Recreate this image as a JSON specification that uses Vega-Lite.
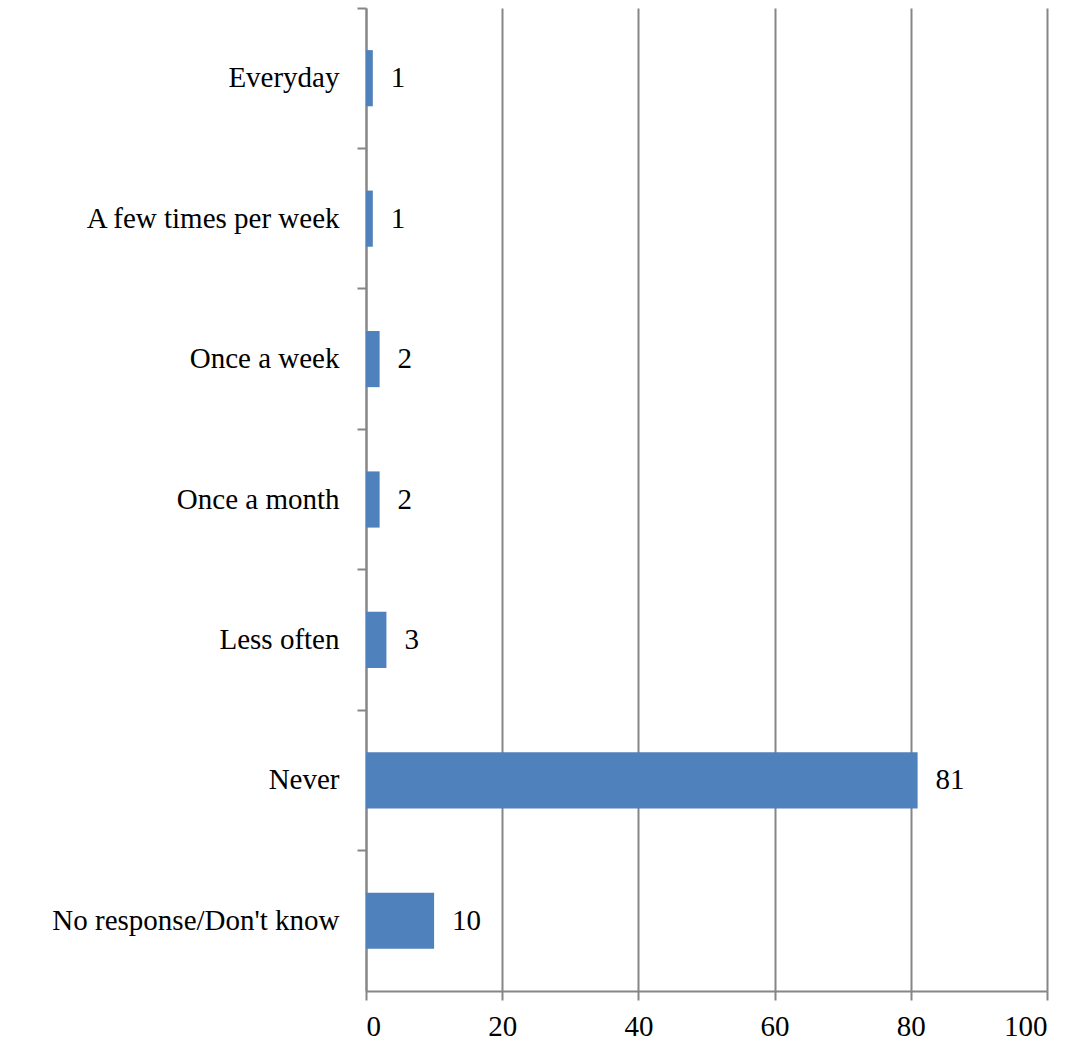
{
  "$schema": "https://vega.github.io/schema/vega-lite/v6.json",
  "width": 681,
  "height": 983,
  "autosize": {"type": "none"},
  "padding": {"left": 366, "top": 8, "right": 29, "bottom": 52},
  "background": "white",
  "config": {
    "view": {"stroke": null},
    "font": "Liberation Serif"
  },
  "data": {
    "values": [
      {"category": "Everyday\u00a0", "value": 1},
      {"category": "A few times per week", "value": 1},
      {"category": "Once a week", "value": 2},
      {"category": "Once a month", "value": 2},
      {"category": "Less often\u00a0", "value": 3},
      {"category": "Never", "value": 81},
      {"category": "No response/Don't know", "value": 10}
    ]
  },
  "encoding": {
    "y": {
      "field": "category",
      "type": "nominal",
      "sort": null,
      "scale": {"paddingInner": 0, "paddingOuter": 0},
      "axis": {
        "title": null,
        "bandPosition": 0,
        "domainColor": "#868686",
        "domainWidth": 2,
        "tickColor": "#868686",
        "tickWidth": 2,
        "tickSize": 9,
        "labelPadding": 18,
        "labelLimit": 0,
        "labelFont": "Liberation Serif",
        "labelFontSize": 29,
        "labelColor": "#000000",
        "grid": false
      }
    },
    "x": {
      "field": "value",
      "type": "quantitative",
      "scale": {"domain": [0, 100], "nice": false},
      "axis": {
        "title": null,
        "values": [0, 20, 40, 60, 80, 100],
        "domainColor": "#868686",
        "domainWidth": 2,
        "tickColor": "#868686",
        "tickWidth": 2,
        "tickSize": 9,
        "labelPadding": 12,
        "labelFont": "Liberation Serif",
        "labelFontSize": 29,
        "labelColor": "#000000",
        "grid": true,
        "gridColor": "#868686",
        "gridWidth": 2
      }
    }
  },
  "layer": [
    {
      "mark": {"type": "bar", "color": "#4F81BD", "height": {"band": 0.4}}
    },
    {
      "mark": {"type": "text", "align": "left", "baseline": "middle", "dx": 18, "fontSize": 29, "font": "Liberation Serif", "color": "#000000"},
      "encoding": {"text": {"field": "value", "type": "quantitative"}}
    }
  ]
}
